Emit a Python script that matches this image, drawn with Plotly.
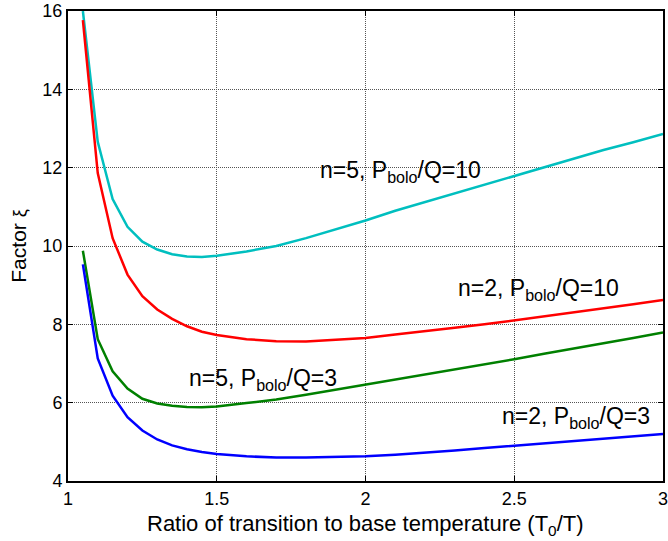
import plotly.graph_objects as go

x_vals = [1.05, 1.10, 1.15, 1.20, 1.25, 1.30, 1.35, 1.40, 1.45, 1.50,
          1.60, 1.70, 1.80, 1.90, 2.00, 2.10, 2.20, 2.30, 2.40, 2.50,
          2.60, 2.70, 2.80, 2.90, 3.00]

n5_q10 = [16.0, 12.66, 11.2, 10.49, 10.11, 9.91, 9.79, 9.73, 9.72, 9.75,
          9.86, 10.0, 10.2, 10.42, 10.65, 10.9, 11.12, 11.35, 11.57, 11.79,
          12.0, 12.22, 12.45, 12.65, 12.86]
n2_q10 = [15.77, 11.86, 10.2, 9.27, 8.72, 8.38, 8.14, 7.95, 7.81, 7.73,
          7.62, 7.57, 7.56, 7.6, 7.65, 7.74, 7.82, 7.91, 8.0, 8.1,
          8.2, 8.3, 8.4, 8.51, 8.62]
n5_q3 = [9.88, 7.62, 6.8, 6.36, 6.1, 5.98, 5.92, 5.89, 5.88, 5.9,
         5.99, 6.08, 6.2, 6.33, 6.45, 6.59, 6.72, 6.85, 6.98, 7.11,
         7.25, 7.38, 7.52, 7.65, 7.79]
n2_q3 = [9.53, 7.13, 6.18, 5.63, 5.29, 5.06, 4.91, 4.81, 4.74, 4.69,
         4.63, 4.6, 4.6, 4.61, 4.63, 4.67, 4.72, 4.78, 4.84, 4.9,
         4.96, 5.02, 5.08, 5.14, 5.2]

label_n5_q10 = "n=5, P<sub>bolo</sub>/Q=10"
label_n2_q10 = "n=2, P<sub>bolo</sub>/Q=10"
label_n5_q3 = "n=5, P<sub>bolo</sub>/Q=3"
label_n2_q3 = "n=2, P<sub>bolo</sub>/Q=3"

series = [
    (label_n5_q10, n5_q10, "#00bfbf", 2.116, 11.95),
    (label_n2_q10, n2_q10, "#ff0000", 2.583, 8.93),
    (label_n5_q3, n5_q3, "#008000", 1.657, 6.63),
    (label_n2_q3, n2_q3, "#0000ff", 2.709, 5.66),
]

x_ticks = [1, 1.5, 2, 2.5, 3]
x_tick_text = ["1", "1.5", "2", "2.5", "3"]
y_ticks = [4, 6, 8, 10, 12, 14, 16]

x_title = "Ratio of transition to base temperature (T<sub>0</sub>/T)"
y_title = "Factor <span style='font-size:18px'>ξ</span>"

FONT = "Liberation Sans, Arial, Helvetica, sans-serif"

fig = go.Figure()
annotations = []
for name, vals, color, lx, ly in series:
    fig.add_trace(go.Scatter(x=x_vals, y=vals, mode="lines", name=name,
                             line=dict(color=color, width=2.5),
                             showlegend=False))
    annotations.append(dict(x=lx, y=ly, xref="x", yref="y", text=name,
                            showarrow=False, xanchor="center", yanchor="middle",
                            yshift=-2,
                            font=dict(family=FONT, size=23, color="black")))

# x-axis title as a paper annotation so that it sits flush with the bottom edge
annotations.append(dict(x=0.5, y=-60 / 470, xref="paper", yref="paper",
                        text=x_title, showarrow=False,
                        xanchor="center", yanchor="bottom", yshift=0,
                        font=dict(family=FONT, size=22, color="black")))

axis_common = dict(showline=True, linecolor="black", linewidth=2,
                   mirror="allticks", ticks="inside", ticklen=5,
                   tickcolor="black", tickwidth=1,
                   showgrid=True, gridcolor="#555555", gridwidth=1,
                   griddash="1px,1px", zeroline=False, automargin=False,
                   ticklabeloverflow="allow",
                   tickfont=dict(family=FONT, size=18, color="black"))

fig.update_xaxes(range=[1, 3], tickvals=x_ticks, ticktext=x_tick_text,
                 **axis_common)
fig.update_yaxes(range=[4, 16], tickvals=y_ticks,
                 title=dict(text=y_title,
                            font=dict(family=FONT, size=21, color="black"),
                            standoff=10),
                 **axis_common)

fig.update_layout(width=668, height=541,
                  margin=dict(l=68, r=5, t=11, b=60),
                  paper_bgcolor="white", plot_bgcolor="white",
                  annotations=annotations,
                  font=dict(family=FONT))

fig.write_html("out.html",
               config={"displayModeBar": False},
               post_script="document.body.style.margin='0';"
                           "document.body.style.overflow='hidden';")
